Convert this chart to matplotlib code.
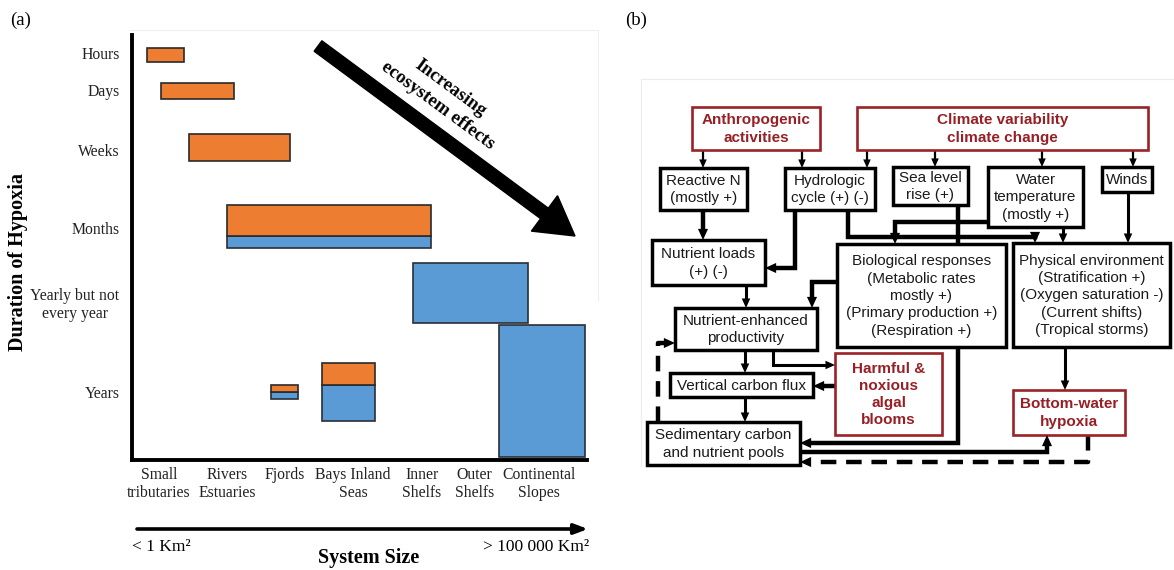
import matplotlib
matplotlib.use("Agg")
import matplotlib.pyplot as plt
from matplotlib.patches import Rectangle, Polygon, FancyArrow
import numpy as np

W, H = 1174, 570
SERIF = ["Liberation Serif", "DejaVu Serif"]
SANS = ["Liberation Sans", "DejaVu Sans"]

# ---------------- Panel (a) data ----------------
system_labels = ["Small\ntributaries", "Rivers\nEstuaries", "Fjords", "Bays Inland\nSeas",
                 "Inner\nShelfs", "Outer\nShelfs", "Continental\nSlopes"]
system_pos = [0.59, 2.09, 3.35, 4.86, 6.37, 7.52, 8.95]
duration_labels = ["Hours", "Days", "Weeks", "Months", "Yearly but not\nevery year", "Years"]
duration_pos = [9.58, 8.71, 7.29, 5.46, 3.72, 1.60]

orange_left = [0.33, 0.64, 1.25, 2.09, 3.05, 4.18]
orange_right = [1.14, 2.24, 3.47, 6.57, 3.65, 5.34]
orange_low = [9.36, 8.49, 7.04, 5.27, 1.60, 1.76]
orange_high = [9.69, 8.87, 7.67, 6.00, 1.76, 2.28]

blue_left = [2.09, 6.18, 3.05, 4.18, 8.07]
blue_right = [6.57, 8.70, 3.65, 5.34, 9.96]
blue_low = [4.99, 3.22, 1.44, 0.92, 0.07]
blue_high = [5.27, 4.64, 1.60, 1.76, 3.18]

# ---------------- Panel (b) labels ----------------
node_labels = {
    "anthro": "Anthropogenic\nactivities",
    "climate": "Climate variability\nclimate change",
    "reactN": "Reactive N\n(mostly +)",
    "hydro": "Hydrologic\ncycle (+) (-)",
    "sea": "Sea level\nrise (+)",
    "wtemp": "Water\ntemperature\n(mostly +)",
    "winds": "Winds",
    "nload": "Nutrient loads\n(+) (-)",
    "bio": "Biological responses\n(Metabolic rates\nmostly +)\n(Primary production +)\n(Respiration +)",
    "phys": "Physical environment\n(Stratification +)\n(Oxygen saturation -)\n(Current shifts)\n(Tropical storms)",
    "nep": "Nutrient-enhanced\nproductivity",
    "hab": "Harmful &\nnoxious\nalgal\nblooms",
    "vcf": "Vertical carbon flux",
    "sed": "Sedimentary carbon\nand nutrient pools",
    "hyp": "Bottom-water\nhypoxia",
}
red_nodes = ["anthro", "climate", "hab", "hyp"]

# layout of diagram boxes (pixel frame x0, y0, x1, y1)
node_boxes = {
    "anthro": (692, 107, 820, 150),
    "climate": (857, 107, 1148, 150),
    "reactN": (660, 168, 747, 210),
    "hydro": (785, 168, 875, 210),
    "sea": (893, 167, 968, 205),
    "wtemp": (988, 167, 1083, 227),
    "winds": (1102, 167, 1152, 192),
    "nload": (652, 240, 765, 285),
    "bio": (837, 244, 1006, 347),
    "phys": (1013, 243, 1170, 347),
    "nep": (675, 308, 817, 350),
    "hab": (835, 353, 942, 435),
    "vcf": (670, 373, 813, 397),
    "sed": (647, 422, 800, 465),
    "hyp": (1013, 390, 1125, 435),
}

THIN, MID, THICK = 1.6, 2.2, 3.2
links = [
    ([(703, 150), (703, 168)], THIN, "-", True),
    ([(802, 150), (802, 168)], THIN, "-", True),
    ([(867, 150), (867, 168)], THIN, "-", True),
    ([(935, 150), (935, 167)], THIN, "-", True),
    ([(1042, 150), (1042, 167)], THIN, "-", True),
    ([(1133, 150), (1133, 167)], THIN, "-", True),
    ([(703, 210), (703, 240)], THICK, "-", True),
    ([(795, 210), (795, 268), (765, 268)], THICK, "-", True),
    ([(848, 210), (848, 237), (1035, 237), (1035, 243)], THICK, "-", True),
    ([(958, 205), (958, 244)], THICK, "-", False),
    ([(988, 222), (895, 222), (895, 244)], THICK, "-", True),
    ([(1063, 227), (1063, 243)], MID, "-", True),
    ([(1128, 192), (1128, 243)], MID, "-", True),
    ([(746, 285), (746, 308)], MID, "-", True),
    ([(837, 282), (812, 282), (812, 308)], THICK, "-", True),
    ([(745, 350), (745, 373)], MID, "-", True),
    ([(773, 350), (773, 365), (835, 365)], MID, "-", True),
    ([(835, 386), (813, 386)], THICK, "-", True),
    ([(745, 397), (745, 422)], MID, "-", True),
    ([(658, 422), (658, 343), (675, 343)], THICK, (0, (3.5, 2.2)), True),
    ([(958, 347), (958, 443), (800, 443)], THICK, "-", True),
    ([(800, 452), (1047, 452), (1047, 435)], THICK, "-", True),
    ([(1088, 435), (1088, 462), (800, 462)], THICK, (0, (3.5, 2.2)), True),
    ([(1065, 347), (1065, 390)], MID, "-", True),
]

# ---------------- Figure ----------------
fig = plt.figure(figsize=(W / 100, H / 100), dpi=100)

ax = fig.add_axes([132 / W, (H - 460) / H, 455 / W, 425 / H])
ax.set_xlim(0, 10)
ax.set_ylim(0, 10)
ax.bar(x=blue_left, height=np.subtract(blue_high, blue_low),
       width=np.subtract(blue_right, blue_left), bottom=blue_low,
       align="edge", color="#5B9BD5", edgecolor="#2a2f36", linewidth=1.2, zorder=3)
ax.bar(x=orange_left, height=np.subtract(orange_high, orange_low),
       width=np.subtract(orange_right, orange_left), bottom=orange_low,
       align="edge", color="#ED7D31", edgecolor="#2a2a2a", linewidth=1.2, zorder=3)
for s in ["top", "right"]:
    ax.spines[s].set_visible(False)
for s in ["left", "bottom"]:
    ax.spines[s].set_linewidth(2.8)
    ax.spines[s].set_color("black")
    ax.spines[s].set_capstyle("projecting")
ax.set_xticks(system_pos)
ax.set_xticklabels(system_labels, fontsize=11.3, family=SERIF, color="#222222")
ax.set_yticks(duration_pos)
ax.set_yticklabels(duration_labels, fontsize=11.3, family=SERIF, color="#222222")
for lbl in ax.get_yticklabels():
    lbl.set_multialignment("center")
ax.tick_params(axis="x", length=0, pad=5)
ax.tick_params(axis="y", length=0, pad=9)

# overlay in pixel frame
ov = fig.add_axes([0, 0, 1, 1], zorder=5)
ov.set_xlim(0, W)
ov.set_ylim(H, 0)
ov.axis("off")
ov.patch.set_alpha(0)

# faint frames
ov.plot([130, 598, 598], [30, 30, 300], color="#efefef", lw=0.8, zorder=0)
ov.plot([641, 641, 1174], [466, 79, 79], color="#ececec", lw=0.8, zorder=0)

ov.text(10, 20, "(a)", fontsize=13.5, family=SERIF, ha="left", va="center")
ov.text(625, 20, "(b)", fontsize=13.5, family=SERIF, ha="left", va="center")
ov.text(18, 262, "Duration of Hypoxia", rotation=90, fontsize=14.5, family=SERIF,
        fontweight="bold", ha="center", va="center")

# big arrow
ov.add_patch(FancyArrow(318, 46, 257, 190, width=13, head_width=44, head_length=38,
                        length_includes_head=True, color="black", zorder=4))
ov.text(444, 97, "Increasing\necosystem effects", rotation=-36.4, rotation_mode="anchor",
        ha="center", va="center", multialignment="center", fontsize=13.5, family=SERIF,
        fontweight="bold", linespacing=1.3)

# system size arrow
ov.annotate("", xy=(588, 529), xytext=(137, 529),
            arrowprops=dict(arrowstyle="-|>,head_length=0.8,head_width=0.3", lw=2.6,
                            color="black", shrinkA=0, shrinkB=0))
ov.text(132, 547, "< 1 Km²", fontsize=12.5, family=SERIF, ha="left", va="center")
ov.text(589, 547, "> 100 000 Km²", fontsize=12.5, family=SERIF, ha="right", va="center")
ov.text(369, 558, "System Size", fontsize=14.5, family=SERIF, fontweight="bold",
        ha="center", va="center")

# ---------------- Panel (b) ----------------
RED_TXT = "#962025"
RED_EDGE = "#9B2226"


def draw_link(pts, lw, ls, head):
    pts = np.array(pts, float)
    if head:
        hl = 6 + lw * 1.6
        hw = 5 + lw * 1.6
        p1, p2 = pts[-2], pts[-1]
        d = (p2 - p1) / np.linalg.norm(p2 - p1)
        n = np.array([-d[1], d[0]])
        line = pts.copy()
        line[-1] = p2 - d * hl * 0.7
        ov.plot(line[:, 0], line[:, 1], color="black", lw=lw, ls=ls,
                solid_capstyle="butt", solid_joinstyle="miter", dash_capstyle="butt", zorder=2)
        base = p2 - d * hl
        ov.add_patch(Polygon([p2, base + n * hw / 2, base - n * hw / 2], closed=True,
                             facecolor="black", edgecolor="none", zorder=4))
    else:
        ov.plot(pts[:, 0], pts[:, 1], color="black", lw=lw, ls=ls,
                solid_capstyle="butt", solid_joinstyle="miter", zorder=2)


for pts, lw, ls, head in links:
    draw_link(pts, lw, ls, head)

for key, (x0, y0, x1, y1) in node_boxes.items():
    red = key in red_nodes
    ov.add_patch(Rectangle((x0, y0), x1 - x0, y1 - y0, facecolor="white",
                           edgecolor=RED_EDGE if red else "black",
                           lw=1.9 if red else 2.5, zorder=3))
    ov.text((x0 + x1) / 2, (y0 + y1) / 2 + 0.5, node_labels[key], ha="center", va="center",
            multialignment="center", fontsize=11, family=SANS,
            color=RED_TXT if red else "#1a1a1a",
            fontweight="bold" if red else "normal", linespacing=1.3, zorder=4)

fig.savefig("out.png", dpi=100)
